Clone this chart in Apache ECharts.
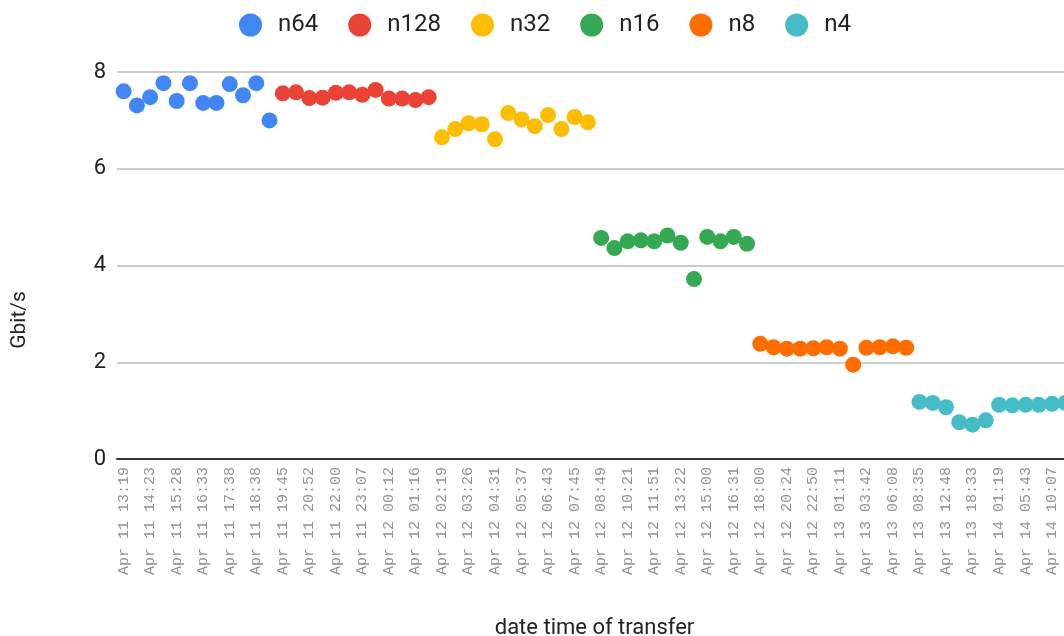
<!DOCTYPE html>
<html lang="en">
<head>
    <meta charset="UTF-8">
    <title>transfer rate</title>
    <script src="https://cdn.jsdelivr.net/npm/echarts@6/dist/echarts.min.js"></script>
    <style>
        html, body { margin: 0; padding: 0; background: #fff; }
        #main { width: 1064px; height: 636px; }
    </style>
</head>
<body>
<div id="main"></div>

<script>
    // time of each transfer (only every other one is labelled on the axis)
    var times = [
        "Apr 11 13:19", "Apr 11 13:51", "Apr 11 14:23", "Apr 11 14:55", "Apr 11 15:28", "Apr 11 16:00",
        "Apr 11 16:33", "Apr 11 17:05", "Apr 11 17:38", "Apr 11 18:08", "Apr 11 18:38", "Apr 11 19:11",
        "Apr 11 19:45", "Apr 11 20:18", "Apr 11 20:52", "Apr 11 21:26", "Apr 11 22:00", "Apr 11 22:33",
        "Apr 11 23:07", "Apr 11 23:39", "Apr 12 00:12", "Apr 12 00:44", "Apr 12 01:16", "Apr 12 01:47",
        "Apr 12 02:19", "Apr 12 02:52", "Apr 12 03:26", "Apr 12 03:58", "Apr 12 04:31", "Apr 12 05:04",
        "Apr 12 05:37", "Apr 12 06:10", "Apr 12 06:43", "Apr 12 07:14", "Apr 12 07:45", "Apr 12 08:17",
        "Apr 12 08:49", "Apr 12 09:35", "Apr 12 10:21", "Apr 12 11:06", "Apr 12 11:51", "Apr 12 12:36",
        "Apr 12 13:22", "Apr 12 14:11", "Apr 12 15:00", "Apr 12 15:45", "Apr 12 16:31", "Apr 12 17:15",
        "Apr 12 18:00", "Apr 12 19:12", "Apr 12 20:24", "Apr 12 21:37", "Apr 12 22:50", "Apr 13 00:00",
        "Apr 13 01:11", "Apr 13 02:26", "Apr 13 03:42", "Apr 13 04:55", "Apr 13 06:08", "Apr 13 07:21",
        "Apr 13 08:35", "Apr 13 10:41", "Apr 13 12:48", "Apr 13 15:40", "Apr 13 18:33", "Apr 13 21:56",
        "Apr 14 01:19", "Apr 14 03:31", "Apr 14 05:43", "Apr 14 07:55", "Apr 14 10:07", "Apr 14 12:19"
    ];

    // Gbit/s per run, in time order
    var n64  = [7.60, 7.31, 7.48, 7.77, 7.40, 7.77, 7.36, 7.36, 7.75, 7.52, 7.77, 7.00];
    var n128 = [7.56, 7.58, 7.46, 7.47, 7.57, 7.58, 7.53, 7.63, 7.45, 7.45, 7.42, 7.48];
    var n32  = [6.65, 6.82, 6.94, 6.92, 6.61, 7.15, 7.02, 6.88, 7.11, 6.82, 7.07, 6.96];
    var n16  = [4.57, 4.36, 4.50, 4.52, 4.50, 4.62, 4.47, 3.72, 4.59, 4.50, 4.59, 4.45];
    var n8   = [2.38, 2.31, 2.28, 2.28, 2.29, 2.31, 2.28, 1.95, 2.30, 2.31, 2.33, 2.30];
    var n4   = [1.18, 1.16, 1.07, 0.76, 0.71, 0.80, 1.12, 1.11, 1.12, 1.12, 1.14, 1.16];

    var names  = ['n64', 'n128', 'n32', 'n16', 'n8', 'n4'];
    var runs   = [n64, n128, n32, n16, n8, n4];
    var colors = ['#4285F4', '#EA4335', '#FBBC04', '#34A853', '#FF6D01', '#46BDC6'];

    // each run follows the previous one on the time axis
    var series = [];
    var pos = 0;
    runs.forEach(function (vals, k) {
        var data = vals.map(function (v, i) { return [times[pos + i], v]; });
        pos += vals.length;
        series.push({
            name: names[k],
            type: 'scatter',
            symbolSize: 16,
            itemStyle: { color: colors[k], opacity: 1 },
            data: data
        });
    });

    var myChart = echarts.init(document.getElementById('main'));

    var option = {
        animation: false,
        textStyle: { fontFamily: 'Roboto, Arial, sans-serif' },
        legend: {
            top: 8,
            left: 234,
            icon: 'circle',
            itemWidth: 23,
            itemHeight: 23,
            itemGap: 30,
            textStyle: { fontSize: 24, color: '#222', padding: [0, 0, 0, 11] },
            data: names
        },
        grid: {
            left: 117,
            top: 72,
            width: 955,
            height: 387,
            outerBoundsMode: 'none'
        },
        xAxis: {
            type: 'category',
            data: times,
            name: 'date time of transfer',
            nameLocation: 'middle',
            nameGap: 158,
            nameTextStyle: { fontSize: 22, color: '#222' },
            axisLine: { lineStyle: { color: '#333', width: 2 } },
            axisTick: { show: false },
            axisLabel: {
                interval: 1,
                rotate: 90,
                margin: 8,
                fontFamily: 'Liberation Mono, monospace',
                fontSize: 15,
                color: '#919191'
            }
        },
        yAxis: {
            type: 'value',
            min: 0,
            max: 8,
            interval: 2,
            axisLine: { show: false },
            axisTick: { show: false },
            axisLabel: { fontSize: 22, color: '#222', margin: 11 },
            splitLine: { lineStyle: { color: '#ccc', width: 2 } }
        },
        graphic: [{
            type: 'text',
            x: 20,
            y: 320,
            rotation: Math.PI / 2,
            style: {
                text: 'Gbit/s',
                font: '21px Roboto, Arial, sans-serif',
                fill: '#222',
                align: 'center',
                verticalAlign: 'middle'
            }
        }],
        series: series
    };

    myChart.setOption(option);
</script>
</body>
</html>
